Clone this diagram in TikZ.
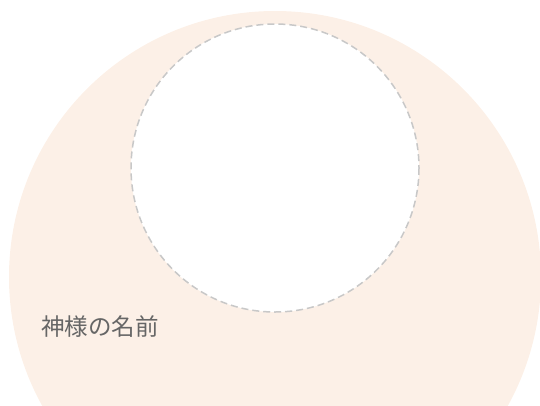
\documentclass[tikz,border=0pt]{standalone}
\usepackage{fontspec}
\newfontfamily\jpfont{Noto Sans CJK JP}
\definecolor{peach}{HTML}{FCF0E7}
\definecolor{dashgray}{HTML}{C8C8C8}
\definecolor{namegray}{HTML}{666666}
\tikzset{x=1pt,y=-1pt,
  outerdisc/.style={fill=peach},
  innerdisc/.style={fill=white,draw=dashgray,line width=1.5pt,dash pattern=on 7pt off 4pt},
  godname/.style={text=namegray,font=\jpfont\fontsize{23.5}{23.5}\selectfont,inner sep=0pt,anchor=west}}

\begin{document}
\begin{tikzpicture}
        \useasboundingbox (0,0) rectangle (540,405);
        \clip (0,0) rectangle (540,405);
        \fill[outerdisc] (275,277) circle (266);
        \draw[innerdisc] (275,168) circle (144);
        \node[godname] (name) at (41,327) {神様の名前};
    \end{tikzpicture}
\end{document}
